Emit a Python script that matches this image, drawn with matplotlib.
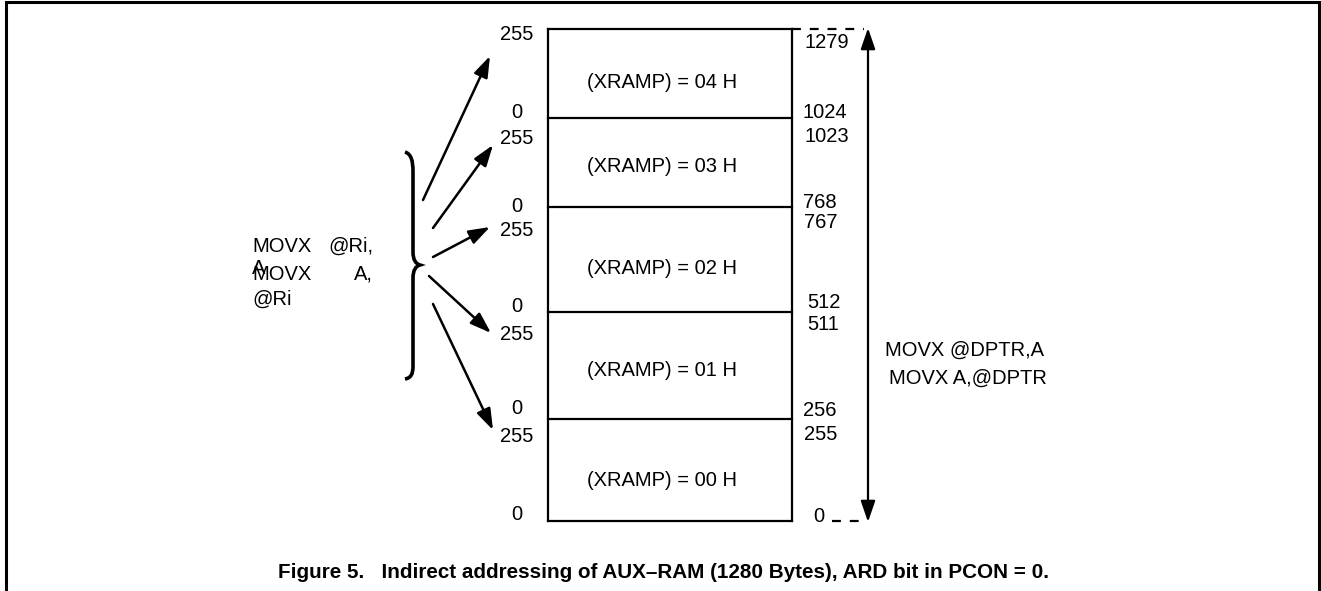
import matplotlib.pyplot as plt
from matplotlib.patches import FancyArrowPatch, PathPatch
from matplotlib.path import Path

plt.rcParams['font.family'] = ['Liberation Sans', 'DejaVu Sans']

# XRAMP pages, top to bottom
banks = ['04', '03', '02', '01', '00']
bank_high = [1279, 1023, 767, 511, 255]
bank_low = [1024, 768, 512, 256, 0]
page_high = 255
page_low = 0

# figure is laid out in pixel units (y grows downward)
edges = [29, 118, 207, 312, 419, 521]
box_left, box_right = 548, 792
arrow_x = 868

# left page labels: (y of "255", y of "0") per bank
left_high_y = [35, 138, 231, 334, 437]
left_low_y = [113, 207, 306, 409, 514]
# right absolute labels
right_high_y = [43, 137, 222, 325, 434]
right_low_y = [113, 203, 302, 411, 516]
right_high_x = [804, 804, 804, 807, 804]
right_low_x = [803, 803, 807, 803, 813]
bank_text_y = [82, 166, 268, 370, 480]

# fan of arrows from the brace
fan_start = [(423, 200), (433, 228), (433, 257), (429, 276), (433, 304)]
fan_end = [(490, 56), (493, 145), (490, 227), (491, 333), (493, 430)]

FS = 14.5
HEAD = '-|>,head_length=1.6,head_width=0.55'

fig = plt.figure(figsize=(13.21, 5.91), dpi=100)
ax = fig.add_axes([0, 0, 1, 1])
ax.set_xlim(0, 1321)
ax.set_ylim(591, 0)
ax.axis('off')

# outer frame (open at the bottom)
ax.plot([6, 6, 1319, 1319], [591, 2, 2, 591], color='black', lw=2.2,
        solid_joinstyle='miter')

# memory box
ax.plot([box_left, box_left], [edges[0], edges[-1]], color='black', lw=1.6)
ax.plot([box_right, box_right], [edges[0], edges[-1]], color='black', lw=1.6)
for y in edges:
    ax.plot([box_left, box_right], [y, y], color='black', lw=1.6)

for i, b in enumerate(banks):
    ax.text((box_left + box_right) / 2 - 8, bank_text_y[i], f'(XRAMP) = {b} H',
            ha='center', va='center', fontsize=FS)
    ax.text(517, left_high_y[i], str(page_high), ha='center', va='center', fontsize=FS)
    ax.text(517, left_low_y[i], str(page_low), ha='center', va='center', fontsize=FS)
    ax.text(right_high_x[i], right_high_y[i], str(bank_high[i]),
            ha='left', va='center', fontsize=FS)
    ax.text(right_low_x[i], right_low_y[i], str(bank_low[i]),
            ha='left', va='center', fontsize=FS)

# dashed extension lines to the big arrow
ax.plot([box_right, arrow_x - 4], [edges[0], edges[0]], color='black', lw=1.6,
        dashes=(4, 4))
ax.plot([box_right + 40, arrow_x - 4], [edges[-1], edges[-1]], color='black', lw=1.6,
        dashes=(4, 4))

# double-headed address arrow
ax.add_patch(FancyArrowPatch((arrow_x, edges[-1] + 1), (arrow_x, edges[0] - 1),
                             arrowstyle='<|-|>,head_length=1.6,head_width=0.55',
                             color='black', lw=1.6, mutation_scale=8,
                             shrinkA=0, shrinkB=0))

ax.text(885, 350, 'MOVX @DPTR,A', ha='left', va='center', fontsize=FS)
ax.text(889, 378, 'MOVX A,@DPTR', ha='left', va='center', fontsize=FS)

# fan arrows
for s, e in zip(fan_start, fan_end):
    ax.add_patch(FancyArrowPatch(s, e, arrowstyle=HEAD,
                                 color='black', lw=1.8, mutation_scale=8,
                                 shrinkA=0, shrinkB=0))

# curly brace
verts = [(405, 152), (411, 154), (413, 160), (413, 172),
         (413, 252),
         (413, 260), (416, 264), (420, 265),
         (416, 266), (413, 270), (413, 278),
         (413, 366),
         (413, 374), (411, 378), (405, 379)]
codes = [Path.MOVETO, Path.CURVE4, Path.CURVE4, Path.CURVE4,
         Path.LINETO,
         Path.CURVE4, Path.CURVE4, Path.CURVE4,
         Path.CURVE4, Path.CURVE4, Path.CURVE4,
         Path.LINETO,
         Path.CURVE4, Path.CURVE4, Path.CURVE4]
ax.add_patch(PathPatch(Path(verts, codes), fill=False, lw=2.6, color='black'))

# overlapping instruction text (as in the original)
ax.text(252, 246, 'MOVX', ha='left', va='center', fontsize=FS)
ax.text(373, 246, '@Ri,', ha='right', va='center', fontsize=FS)
ax.text(252, 269, 'A', ha='left', va='center', fontsize=FS)
ax.text(252, 274, 'MOVX', ha='left', va='center', fontsize=FS)
ax.text(373, 274, 'A,', ha='right', va='center', fontsize=FS)
ax.text(252, 299, '@Ri', ha='left', va='center', fontsize=FS)

ax.text(663, 572,
        'Figure 5.   Indirect addressing of AUX\u2013RAM (1280 Bytes), ARD bit in PCON = 0.',
        ha='center', va='center', fontsize=14.85, fontweight='bold')

fig.savefig('out.png', dpi=100)
